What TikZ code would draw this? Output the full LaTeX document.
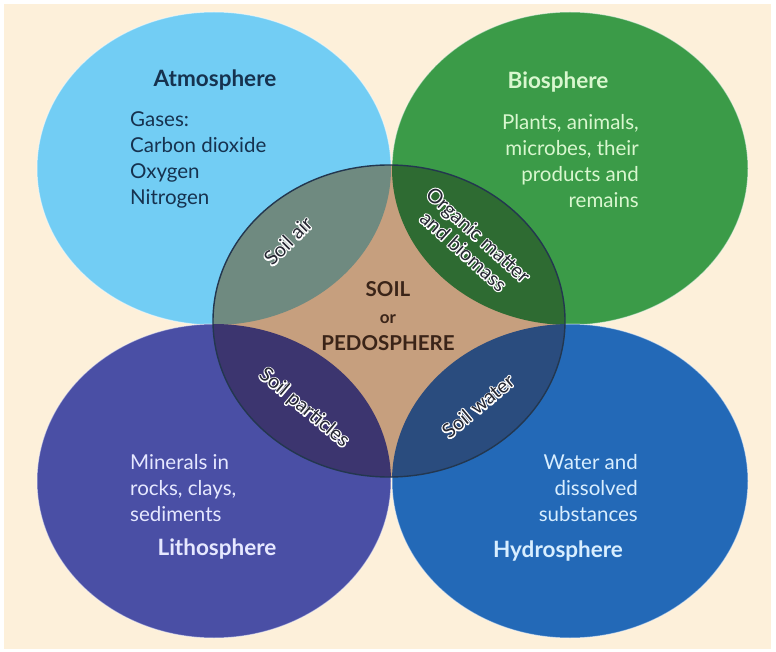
\documentclass[tikz,border=0pt]{standalone}
\usepackage{fontspec}
\setmainfont{Lato}
\newfontface\halofont{Lato}[FakeBold=12]
\newcommand{\halo}[1]{\rlap{\textcolor{white}{\halofont #1}}#1}
\definecolor{bgc}{HTML}{FDF0DA}
\definecolor{atmc}{HTML}{72CDF4}
\definecolor{bioc}{HTML}{3B9B48}
\definecolor{litc}{HTML}{4A4FA5}
\definecolor{hydc}{HTML}{2369B7}
\definecolor{soilc}{HTML}{C69F7E}
\definecolor{airc}{HTML}{6F8A80}
\definecolor{orgc}{HTML}{2E6B32}
\definecolor{partc}{HTML}{3C356F}
\definecolor{watc}{HTML}{2A4C7E}
\definecolor{edgec}{HTML}{23374F}
\definecolor{atmtxt}{HTML}{16324F}
\definecolor{biotxt}{HTML}{D9F7CF}
\definecolor{littxt}{HTML}{E6E8FF}
\definecolor{hydtxt}{HTML}{D8EEFF}
\definecolor{soiltxt}{HTML}{3A2418}
\definecolor{lenstxt}{HTML}{262833}
\begin{document}
\begin{tikzpicture}[x=1pt,y=-1pt,
  title/.style={font=\fontsize{22.5}{26}\selectfont\bfseries, inner sep=0pt},
  body/.style={font=\fontsize{20.5}{26}\selectfont, inner sep=0pt},
  lens/.style={font=\fontsize{20}{22}\selectfont, text=lenstxt, inner sep=0pt, align=center, line join=round},
  rim/.style={draw=white, draw opacity=0.5, line width=1pt}]
\useasboundingbox (0,0) rectangle (776,652);
\fill[white] (0,0) rectangle (776,652);
\fill[bgc] (4,4) rectangle (771,649);
% outer spheres
\coordinate (atm) at (214,168.5);
\coordinate (bio) at (570,168.5);
\coordinate (lit) at (214,481);
\coordinate (hyd) at (570,481);
\coordinate (soil) at (389,321);
\fill[atmc, rim] (atm) ellipse [x radius=177pt, y radius=156.5pt];
\fill[bioc, rim] (bio) ellipse [x radius=178pt, y radius=156.5pt];
\fill[litc, rim] (lit) ellipse [x radius=177pt, y radius=157pt];
\fill[hydc, rim] (hyd) ellipse [x radius=178pt, y radius=157pt];
% soil
\fill[soilc] (soil) ellipse [x radius=176pt, y radius=156pt];
\begin{scope}
  \clip (soil) ellipse [x radius=176pt, y radius=156pt];
  \fill[airc] (atm) ellipse [x radius=177pt, y radius=156.5pt];
  \fill[orgc] (bio) ellipse [x radius=178pt, y radius=156.5pt];
  \fill[partc] (lit) ellipse [x radius=177pt, y radius=157pt];
  \fill[watc] (hyd) ellipse [x radius=178pt, y radius=157pt];
\end{scope}
\draw[edgec, line width=1.4pt] (soil) ellipse [x radius=176pt, y radius=156pt];
% texts
\node[title, text=atmtxt] (atmT) at (215,80) {Atmosphere};
\node[body, text=atmtxt, align=left, anchor=west] (atmB) at (130,160)
  {Gases:\\Carbon dioxide\\Oxygen\\Nitrogen};
\node[title, text=biotxt] (bioT) at (558,82) {Biosphere};
\node[body, text=biotxt, align=right, anchor=east] (bioB) at (639,161)
  {Plants, animals,\\microbes, their\\products and\\remains};
\node[body, text=littxt, align=left, anchor=west] (litB) at (130,488)
  {Minerals in\\rocks, clays,\\sediments};
\node[title, text=littxt] (litT) at (217,549) {Lithosphere};
\node[body, text=hydtxt, align=right, anchor=east] (hydB) at (638,488)
  {Water and\\dissolved\\substances};
\node[title, text=hydtxt] (hydT) at (558,551) {Hydrosphere};
\node[font=\fontsize{20.5}{27}\selectfont\bfseries, text=soiltxt, align=center, inner sep=0pt] (soilT) at (388,316)
  {SOIL\\{\fontsize{17}{27}\selectfont or}\\PEDOSPHERE};
% lens labels
\node[lens, rotate=45] (airL) at (288,241) {\halo{Soil air}};
\node[lens, rotate=-42] (orgL) at (471,243)
  {\halo{Organic matter}\\\halo{and biomass}};
\node[lens, rotate=-40] (partL) at (304,408) {\halo{Soil particles}};
\node[lens, rotate=40] (watL) at (478,406) {\halo{Soil water}};
\end{tikzpicture}
\end{document}
